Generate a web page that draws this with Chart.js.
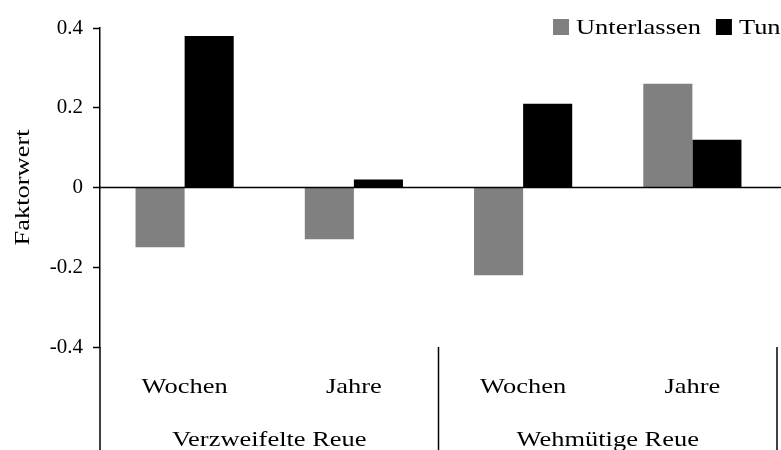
<!DOCTYPE html>
<html>
<head>
<meta charset="utf-8">
<script src="https://cdn.jsdelivr.net/npm/chart.js@4.4.1/dist/chart.umd.min.js"></script>
<style>
  html, body { margin: 0; padding: 0; background: #fff; }
  #wrap { width: 781px; height: 450px; overflow: hidden; }
</style>
</head>
<body>
<div id="wrap"><canvas id="c" width="781" height="450"></canvas></div>
<script>
// Time periods within each regret type
const categories = ['Wochen', 'Jahre', 'Wochen', 'Jahre'];
// Regret types, each spanning two periods
const groups = ['Verzweifelte Reue', 'Wehmütige Reue'];
// Factor values
const unterlassen = [-0.15, -0.13, -0.22, 0.26];
const tun = [0.38, 0.02, 0.21, 0.12];
const yTicks = [-0.4, -0.2, 0, 0.2, 0.4];
const yTitle = 'Faktorwert';

const FONT = 'Liberation Serif, Times New Roman, serif';
const FONT_SIZE = 21;
const STRETCH = 1.26; // wide-set serif lettering

// Write text widened horizontally around its anchor point
function wideText(ctx, text, x, y, align) {
  ctx.save();
  ctx.translate(x, y);
  ctx.scale(STRETCH, 1);
  ctx.textAlign = align;
  ctx.fillText(text, 0, 0);
  ctx.restore();
}

// Zero line, separators, category and group labels, axis title, legend
const decorations = {
  id: 'decorations',
  afterDraw(chart) {
    const ctx = chart.ctx;
    const x = chart.scales.x, y = chart.scales.y;
    const area = chart.chartArea;
    const H = chart.height;
    ctx.save();
    ctx.strokeStyle = '#000';
    ctx.lineWidth = 1.5;
    // zero line
    const y0 = y.getPixelForValue(0);
    ctx.beginPath();
    ctx.moveTo(area.left, y0);
    ctx.lineTo(chart.width, y0);
    ctx.stroke();
    // y axis continues down through the category area
    ctx.beginPath();
    ctx.moveTo(area.left, area.bottom);
    ctx.lineTo(area.left, H);
    ctx.stroke();
    // group separators
    const mid = (x.getPixelForValue(1) + x.getPixelForValue(2)) / 2;
    [mid, area.right].forEach(px => {
      ctx.beginPath();
      ctx.moveTo(px, area.bottom);
      ctx.lineTo(px, H);
      ctx.stroke();
    });

    ctx.fillStyle = '#000';
    ctx.font = FONT_SIZE + 'px ' + FONT;
    ctx.textBaseline = 'alphabetic';
    // category labels
    categories.forEach((c, i) => wideText(ctx, c, x.getPixelForValue(i), area.bottom + 46, 'center'));
    // group labels
    groups.forEach((g, i) => {
      const cx = (x.getPixelForValue(i * 2) + x.getPixelForValue(i * 2 + 1)) / 2;
      wideText(ctx, g, cx, area.bottom + 99, 'center');
    });
    // y axis title
    ctx.save();
    ctx.translate(29, (area.top + area.bottom) / 2);
    ctx.rotate(-Math.PI / 2);
    wideText(ctx, yTitle, 0, 0, 'center');
    ctx.restore();
    // legend
    let lx = 553;
    chart.data.datasets.forEach(ds => {
      ctx.fillStyle = ds.backgroundColor;
      ctx.fillRect(lx, 19, 16, 16);
      ctx.fillStyle = '#000';
      wideText(ctx, ds.label, lx + 23, 34, 'left');
      lx += 23 + ctx.measureText(ds.label).width * STRETCH + 15;
    });
    ctx.restore();
  }
};

new Chart(document.getElementById('c'), {
  type: 'bar',
  data: {
    labels: categories,
    datasets: [
      { label: 'Unterlassen', data: unterlassen, backgroundColor: '#808080' },
      { label: 'Tun', data: tun, backgroundColor: '#000000' }
    ]
  },
  options: {
    responsive: false,
    animation: false,
    devicePixelRatio: 1,
    layout: { padding: { top: 28, right: 4, left: 0, bottom: 0 } },
    categoryPercentage: 0.58,
    barPercentage: 1.0,
    plugins: { legend: { display: false }, tooltip: { enabled: false } },
    scales: {
      x: {
        grid: { display: false },
        border: { display: false },
        ticks: { display: false },
        afterFit(scale) { scale.height = 103; }
      },
      y: {
        min: -0.4,
        max: 0.4,
        afterBuildTicks(scale) { scale.ticks = yTicks.map(v => ({ value: v })); },
        grid: { drawOnChartArea: false, drawTicks: true, tickLength: 7, color: '#000', tickWidth: 1.5 },
        border: { display: true, color: '#000', width: 1.5 },
        ticks: {
          color: '#000',
          font: { family: FONT, size: FONT_SIZE },
          padding: 10,
          callback: v => (v === 0 ? '0' : String(Math.round(v * 10) / 10))
        },
        afterFit(scale) { scale.width = 100; }
      }
    }
  },
  plugins: [decorations]
});
</script>
</body>
</html>
